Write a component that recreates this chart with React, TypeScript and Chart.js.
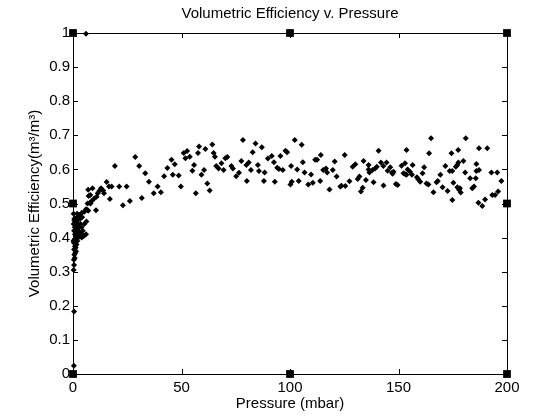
import { useEffect, useRef } from 'react'
import { Chart, registerables } from 'chart.js'

Chart.register(...registerables)

const FONT = "'Liberation Sans', Arial, Helvetica, sans-serif"
const TITLE = 'Volumetric Efficiency v. Pressure'
const X_LABEL = 'Pressure (mbar)'
const Y_LABEL = 'Volumetric Efficiency(m³/m³)'

const X_TICKS = [0, 50, 100, 150, 200]
const Y_TICKS = [0, 0.1, 0.2, 0.3, 0.4, 0.5, 0.6, 0.7, 0.8, 0.9, 1]

// pressure (mbar) of each measurement
const PRESSURE = [
  0.3, 0.5, 0.4, 0.8, 0.6, 1.0, 1.4, 0.5, 1.2, 0.9, 1.6, 0.4, 1.1, 2.0, 0.7, 1.5, 2.5, 3.2, 4.0, 5.0,
  6.0, 0.9, 1.8, 2.8, 3.8, 0.5, 1.3, 2.2, 3.0, 4.5, 0.8, 1.7, 2.6, 3.5, 5.2, 6.2, 1.0, 2.0, 0.6, 1.4,
  2.4, 3.3, 4.2, 2.9, 1.9, 4.1, 5.2, 6.0, 6.7, 7.0, 0.3, 0.2, 0.3, 0.5, 0.4, 0.6, 1.2, 2.1, 3.9, 6.0,
  6.7, 7.8, 8.6, 9.8, 10.9, 7.2, 8.0, 11.4, 12.1, 12.9, 13.9, 7.0, 9.0, 10.6, 8.1,
  14.3, 15.5, 16.6, 17.8, 17.0, 19.3, 21.3, 23.0, 24.7, 26.2, 28.7, 30.5, 31.7, 33.3, 35.0, 37.2, 39.0,
  40.5, 42.0, 43.5, 45.4, 46.0, 46.9, 48.7, 49.7, 51.0, 51.8, 52.6, 53.8, 55.0, 55.8, 56.6, 57.6, 58.1,
  59.2, 60.4, 61.0, 61.9, 63.0, 64.2, 64.8, 65.4, 66.0, 67.1, 68.4, 69.4, 70.2, 71.1, 73.0, 73.7, 75.2,
  76.5, 77.6, 78.3, 79.9, 81.0, 82.0, 82.8, 84.1, 80.1, 85.2, 85.7, 87.0, 88.3, 88.0, 89.8, 91.6, 92.6,
  94.1, 94.9, 93.0, 95.6, 96.7, 97.9, 98.7, 100.5, 100.8, 100.2, 102.2, 105.4, 103.3, 104.0, 105.9,
  106.7, 108.4, 109.7, 110.5, 111.6, 112.5, 113.9, 114.2, 115.3, 116.6, 117.1, 118.2, 119.7, 120.6,
  121.5, 123.2, 123.7, 125.2, 125.5, 127.4, 128.9, 130.1, 131.2, 132.0, 132.7, 133.5, 133.9, 135.0,
  136.2, 136.2, 136.6, 138.0, 138.5, 139.2, 140.0, 140.8, 141.9, 143.1, 143.0, 144.5, 145.0, 146.2,
  147.0, 147.7, 147.3, 148.8, 149.6, 151.4, 153.0, 152.3, 153.1, 153.7, 154.2, 155.3, 156.2, 156.5,
  153.7, 158.5, 159.1, 160.0, 161.1, 161.8, 162.9, 163.8, 164.1, 165.0, 166.1, 167.5, 168.1, 169.3,
  170.3, 171.6, 172.6, 173.6, 174.8, 174.4, 174.8, 175.3, 176.4, 177.1, 177.6, 177.5, 177.1, 177.9,
  178.7, 178.3, 179.9, 181.0, 180.7, 183.0, 184.0, 184.8, 185.6, 185.9, 185.9, 187.1, 187.1, 186.8,
  188.6, 189.9, 190.9, 192.8, 193.2, 194.5, 195.5, 195.9, 197.4,
]

// volumetric efficiency (m3/m3) of each measurement
const EFFICIENCY = [
  0.305, 0.32, 0.335, 0.34, 0.35, 0.355, 0.36, 0.365, 0.37, 0.375, 0.38, 0.385, 0.39, 0.39, 0.395, 0.4,
  0.4, 0.405, 0.4, 0.405, 0.41, 0.41, 0.415, 0.415, 0.41, 0.42, 0.425, 0.42, 0.43, 0.42, 0.43, 0.435,
  0.44, 0.44, 0.44, 0.447, 0.445, 0.45, 0.455, 0.457, 0.46, 0.455, 0.46, 0.466, 0.47, 0.473, 0.476,
  0.483, 0.481, 0.479, 0.44, 0.39, 0.47, 0.183, 0.024, 0.45, 0.405, 0.43, 0.43, 0.998,
  0.5, 0.502, 0.507, 0.515, 0.52, 0.522, 0.525, 0.53, 0.537, 0.545, 0.538, 0.54, 0.545, 0.48, 0.5,
  0.53, 0.563, 0.55, 0.55, 0.513, 0.61, 0.55, 0.495, 0.55, 0.507, 0.636, 0.61, 0.516, 0.589, 0.564, 0.53,
  0.55, 0.533, 0.58, 0.604, 0.628, 0.584, 0.615, 0.582, 0.55, 0.648, 0.633, 0.654, 0.637, 0.596, 0.613,
  0.53, 0.648, 0.667, 0.584, 0.598, 0.66, 0.559, 0.538, 0.673, 0.648, 0.637, 0.61, 0.603, 0.618, 0.598,
  0.633, 0.636, 0.61, 0.603, 0.58, 0.59, 0.625, 0.686, 0.613, 0.62, 0.598, 0.65, 0.676, 0.566, 0.613,
  0.595, 0.665, 0.591, 0.566, 0.632, 0.639, 0.621, 0.605, 0.601, 0.564, 0.639, 0.598, 0.655, 0.65, 0.61,
  0.564, 0.556, 0.686, 0.672, 0.6, 0.566, 0.621, 0.591, 0.556, 0.585, 0.561, 0.628, 0.628, 0.566, 0.642,
  0.598, 0.603, 0.591, 0.541, 0.598, 0.623, 0.579, 0.55, 0.552, 0.642, 0.551, 0.565, 0.608, 0.615, 0.572,
  0.579, 0.535, 0.546, 0.625, 0.569, 0.613, 0.6, 0.591, 0.598, 0.562, 0.603, 0.608, 0.655, 0.62, 0.553,
  0.61, 0.62, 0.596, 0.606, 0.59, 0.593, 0.587, 0.557, 0.554, 0.611, 0.618, 0.589, 0.586, 0.584, 0.6,
  0.593, 0.584, 0.613, 0.657, 0.577, 0.571, 0.564, 0.589, 0.606, 0.559, 0.556, 0.647, 0.691, 0.533,
  0.562, 0.566, 0.584, 0.548, 0.61, 0.537, 0.595, 0.595, 0.647, 0.51, 0.561, 0.608, 0.613, 0.62, 0.657,
  0.548, 0.54, 0.532, 0.545, 0.625, 0.691, 0.591, 0.574, 0.545, 0.55, 0.574, 0.616, 0.595, 0.598, 0.662,
  0.502, 0.493, 0.512, 0.662, 0.591, 0.525, 0.525, 0.591, 0.535, 0.566,
]

// square markers on the axes frame
const MARK_X = [0, 0, 0, 100, 100, 200, 200, 200]
const MARK_Y = [0, 0.5, 1, 0, 1, 0, 0.5, 1]

const TICK_LEN = 5

const framePlugin = {
  id: 'frame',
  beforeDatasetsDraw(chart: Chart) {
    const { ctx, chartArea: a } = chart
    const xs = chart.scales.x
    const ys = chart.scales.y
    ctx.save()
    ctx.strokeStyle = '#000'
    ctx.lineWidth = 1
    ctx.strokeRect(Math.round(a.left) + 0.5, Math.round(a.top) + 0.5, Math.round(a.right - a.left), Math.round(a.bottom - a.top))
    ctx.beginPath()
    for (const v of X_TICKS) {
      const px = Math.round(xs.getPixelForValue(v)) + 0.5
      ctx.moveTo(px, a.bottom)
      ctx.lineTo(px, a.bottom - TICK_LEN)
      ctx.moveTo(px, a.top)
      ctx.lineTo(px, a.top + TICK_LEN)
    }
    for (const v of Y_TICKS) {
      const py = Math.round(ys.getPixelForValue(v)) + 0.5
      ctx.moveTo(a.left, py)
      ctx.lineTo(a.left + TICK_LEN, py)
      ctx.moveTo(a.right, py)
      ctx.lineTo(a.right - TICK_LEN, py)
    }
    ctx.stroke()
    ctx.restore()
  },
}

export default function App() {
  const canvasRef = useRef<HTMLCanvasElement>(null)

  useEffect(() => {
    if (!canvasRef.current) return
    const points = PRESSURE.map((x, i) => ({ x, y: EFFICIENCY[i] }))
    const marks = MARK_X.map((x, i) => ({ x, y: MARK_Y[i] }))
    const font = { family: FONT, size: 15 }

    const chart = new Chart(canvasRef.current, {
      type: 'scatter',
      data: {
        datasets: [
          {
            data: points,
            pointStyle: 'rectRot',
            pointRadius: 3,
            pointBorderWidth: 0,
            backgroundColor: '#000',
            borderColor: '#000',
            clip: false,
          },
          {
            data: marks,
            pointStyle: 'rect',
            pointRadius: 5.5,
            pointBorderWidth: 0,
            backgroundColor: '#000',
            borderColor: '#000',
            clip: false,
          },
        ],
      },
      options: {
        animation: false,
        responsive: false,
        maintainAspectRatio: false,
        layout: { padding: 0 },
        plugins: {
          legend: { display: false },
          tooltip: { enabled: false },
          title: { display: false },
        },
        scales: {
          x: {
            type: 'linear',
            position: 'bottom',
            min: 0,
            max: 200,
            afterBuildTicks: (s) => {
              s.ticks = X_TICKS.map((value) => ({ value }))
            },
            ticks: { font, color: '#000', padding: 5 },
            grid: { display: false, drawTicks: false },
            border: { display: false },
            title: { display: true, text: X_LABEL, font, color: '#000', padding: { top: 0, bottom: 7 } },
            afterFit: (s) => {
              s.height = 46
            },
          },
          x2: {
            type: 'linear',
            axis: 'x',
            position: 'top',
            min: 0,
            max: 200,
            ticks: { display: false },
            grid: { display: false, drawTicks: false },
            border: { display: false },
            title: { display: true, text: TITLE, font, color: '#000', padding: { top: 5, bottom: 0 } },
            afterFit: (s) => {
              s.height = 33
            },
          },
          y: {
            type: 'linear',
            position: 'left',
            min: 0,
            max: 1,
            afterBuildTicks: (s) => {
              s.ticks = Y_TICKS.map((value) => ({ value }))
            },
            ticks: {
              font,
              color: '#000',
              padding: 3,
              callback: (v) => String(Math.round(Number(v) * 10) / 10),
            },
            grid: { display: false, drawTicks: false },
            border: { display: false },
            title: { display: true, text: Y_LABEL, font, color: '#000', padding: { top: 26, bottom: 0 } },
            afterFit: (s) => {
              s.width = 73
            },
          },
          y2: {
            type: 'linear',
            axis: 'y',
            position: 'right',
            min: 0,
            max: 1,
            ticks: { display: false },
            grid: { display: false, drawTicks: false },
            border: { display: false },
            afterFit: (s) => {
              s.width = 53
            },
          },
        },
      },
      plugins: [framePlugin],
    })

    return () => {
      chart.destroy()
    }
  }, [])

  return (
    <div style={{ position: 'absolute', left: 0, top: 0, width: 560, height: 420, background: '#fff' }}>
      <canvas ref={canvasRef} width={560} height={420} />
    </div>
  )
}
